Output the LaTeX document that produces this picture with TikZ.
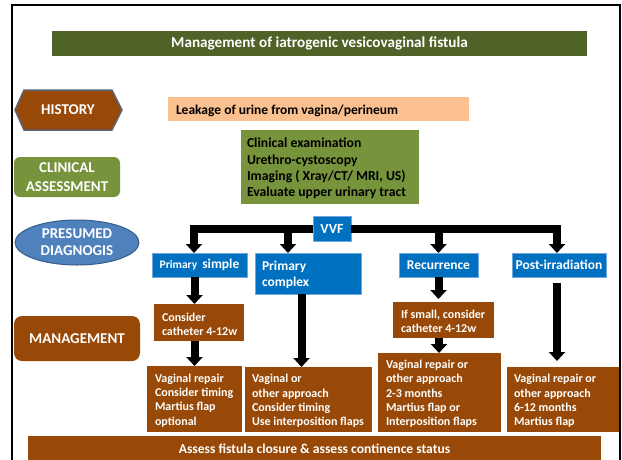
\documentclass[tikz,border=0pt]{standalone}
\usepackage{fontspec}
\setmainfont{Carlito}
\usetikzlibrary{arrows.meta,shapes.geometric}
\definecolor{cTitle}{HTML}{4F6228}
\definecolor{cPeach}{HTML}{FAC090}
\definecolor{cGreen}{HTML}{77933C}
\definecolor{cBrown}{HTML}{984807}
\definecolor{cBlue}{HTML}{0070C0}
\definecolor{cBlueL}{HTML}{6FA8DC}
\definecolor{cEll}{HTML}{4F81BD}
\definecolor{cEllD}{HTML}{385D8A}
\definecolor{cSlate}{HTML}{56657A}
\newcommand{\fsz}[2]{\fontsize{#1}{#2}\selectfont}
\begin{document}
\begin{tikzpicture}[x=1pt,y=-1pt,
  base/.style={inner sep=0pt, outer sep=0pt},
  shp/.style={base, anchor=north west},
  txt/.style={base, anchor=west, align=left, yshift=-1.5pt, font=\bfseries\fsz{12}{14.3}},
  brownbox/.style={shp, fill=cBrown},
  bluebox/.style={shp, fill=cBlue, draw=cBlueL, line width=0.8pt, text=white, align=center, font=\bfseries\fsz{13.5}{16}},
  arr/.style={line width=8pt, -{Triangle[width=16pt,length=9pt]}},
  barline/.style={arr, line join=miter},
  lab/.style={base, text=white, align=center, font=\bfseries\fsz{15}{19}},
]
\useasboundingbox (0,0) rectangle (622,459);
\fill[white] (0,0) rectangle (622,459);
% frame
\draw[line width=2pt] (12,462) -- (12,5) -- (620,5) -- (620,462);

% title
\node[shp, fill=cTitle, text=white, minimum width=535pt, minimum height=25pt, font=\bfseries\fsz{15.2}{17}] (title) at (52,31) {Management of iatrogenic vesicovaginal fistula};

% history
\draw[fill=cBrown, draw=cSlate, line width=1.5pt] (15,110) -- (24,90) -- (112,90) -- (122,110) -- (112,130) -- (24,130) -- cycle;
\node[lab] (hist) at (68,110) {HISTORY};

% clinical assessment
\node[shp, lab, fill=cGreen, rounded corners=6pt, minimum width=106pt, minimum height=40pt] (ca) at (14,157) {CLINICAL\\ASSESSMENT};

% presumed diagnosis
\node[base, ellipse, fill=cEll, draw=cEllD, line width=1pt, minimum width=124pt, minimum height=45pt] (pd) at (77,242.5) {};
\node[lab, font=\bfseries\fsz{15}{17}] (pdt) at (pd.center) {PRESUMED\\DIAGNOGIS};

% management
\node[shp, lab, fill=cBrown, rounded corners=8pt, minimum width=126pt, minimum height=45pt] (mg) at (14,316) {MANAGEMENT};

% leakage
\node[shp, fill=cPeach, minimum width=301pt, minimum height=24pt] (leak) at (168,97) {};
\node[txt, font=\bfseries\fsz{13.5}{16}] (leakt) at ([xshift=8pt]leak.west) {Leakage of urine from vagina/perineum};

% clinical examination
\node[shp, fill=cGreen, minimum width=178pt, minimum height=74pt] (clin) at (241,130) {};
\node[txt, font=\bfseries\fsz{13.7}{16.3}] (clint) at ([xshift=6pt]clin.west) {Clinical examination\\Urethro-cystoscopy\\Imaging ( Xray/CT/ MRI, US)\\Evaluate upper urinary tract};

% VVF and categories
\node[bluebox, minimum width=38pt, minimum height=25pt, font=\bfseries\fsz{14}{16}] (vvf) at (313,216) {VVF};
\node[bluebox, minimum width=95pt, minimum height=24pt] (ps) at (152,253) {{\fsz{11.5}{13}Primary}\hspace{5pt}simple};
\node[bluebox, minimum width=106pt, minimum height=41pt] (pc) at (255,253) {};
\node[txt, text=white, font=\bfseries\fsz{13.5}{16}] (pct) at ([xshift=7pt]pc.west) {Primary\\complex};
\node[bluebox, minimum width=79pt, minimum height=24pt] (rec) at (399,253) {Recurrence};
\node[bluebox, minimum width=94pt, minimum height=24pt] (pir) at (512,253) {Post-irradiation};

% management boxes
\node[brownbox, minimum width=90pt, minimum height=37pt] (cons) at (154,304) {};
\node[txt, text=white, font=\bfseries\fsz{12}{14}] (const) at ([xshift=8pt]cons.west) {Consider\\catheter 4-12w};
\node[brownbox, minimum width=101pt, minimum height=36pt] (ifs) at (393,302) {};
\node[txt, text=white, font=\bfseries\fsz{12}{14}] (ifst) at ([xshift=8pt]ifs.west) {If small, consider\\catheter 4-12w};
\node[brownbox, minimum width=95pt, minimum height=66pt] (vr) at (147,366) {};
\node[txt, text=white] (vrt) at ([xshift=8pt]vr.west) {Vaginal repair\\Consider timing\\Martius flap\\optional};
\node[brownbox, minimum width=127pt, minimum height=65pt] (vo) at (245,367) {};
\node[txt, text=white] (vot) at ([xshift=7pt]vo.west) {Vaginal or\\other approach\\Consider timing\\Use interposition flaps};
\node[brownbox, minimum width=123pt, minimum height=79pt] (rr) at (378,353) {};
\node[txt, text=white] (rrt) at ([xshift=8pt]rr.west) {Vaginal repair or\\other approach\\2-3 months\\Martius flap or\\Interposition flaps};
\node[brownbox, minimum width=112pt, minimum height=65pt] (pr) at (507,367) {};
\node[txt, text=white] (prt) at ([xshift=7pt]pr.west) {Vaginal repair or\\other approach\\6-12 months\\Martius flap};

% bottom
\node[brownbox, text=white, minimum width=573pt, minimum height=26pt, font=\bfseries\fsz{13.6}{15}] (bot) at (28,436) {Assess fistula closure \& assess continence status};

% connectors from VVF
\draw[barline] (vvf.west) -| ([xshift=-5.5pt]ps.north);
\draw[barline] (vvf.west) -| ([xshift=-20pt]pc.north);
\draw[barline] (vvf.east) -| (rec.north);
\draw[barline] (vvf.east) -| ([xshift=-2pt]pir.north);

% vertical arrows
\draw[arr] (ps.south -| vr.north) -- (cons.north -| vr.north);
\draw[arr] (cons.south -| vr.north) -- (vr.north);
\draw[arr] ([xshift=-6.5pt]pc.south) -- ([xshift=-6.5pt]pc.south |- vo.north);
\draw[arr, shorten >=3pt] (rec.south) -- (rec.south |- ifs.north);
\draw[arr] ([xshift=0.5pt]rec.south |- ifs.south) -- ([xshift=0.5pt]rec.south |- rr.north);
\draw[arr, shorten <=6pt, shorten >=6pt] ([xshift=-2pt]pir.south) -- ([xshift=-2pt]pir.south |- pr.north);
\end{tikzpicture}
\end{document}
